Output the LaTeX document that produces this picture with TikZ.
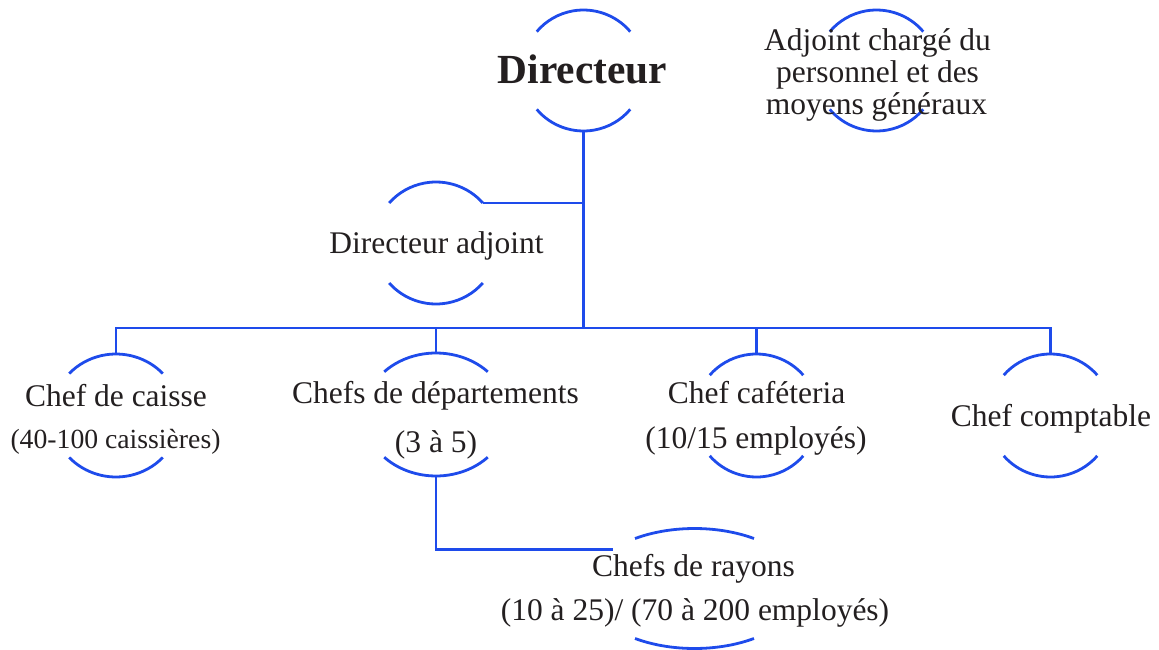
\documentclass[tikz,border=0pt]{standalone}
\usepackage{fontspec}
\setmainfont{Liberation Serif}
\usetikzlibrary{shapes.geometric}
\definecolor{lineblue}{RGB}{30,75,235}
\definecolor{txt}{RGB}{35,31,32}
\tikzset{
  conn/.style={draw=lineblue, line width=2.8pt},
  oval/.style={shape=ellipse, inner sep=0pt, outer sep=0pt},
  lbl/.style={font=\fontsize{31.5}{34}\selectfont, text=txt, inner sep=0pt, anchor=base},
  smalllbl/.style={lbl, font=\fontsize{27.7}{30}\selectfont},
  biglbl/.style={lbl, font=\fontsize{41.4}{44}\selectfont\bfseries}
}
\newcommand\ovarcs[4]{%
  \draw[conn] ([shift={(#4:#2pt and #3pt)}]#1.center) arc[start angle=#4, end angle={180-#4}, x radius=#2pt, y radius=#3pt];
  \draw[conn] ([shift={(180+#4:#2pt and #3pt)}]#1.center) arc[start angle={180+#4}, end angle={360-#4}, x radius=#2pt, y radius=#3pt];}
\begin{document}
\begin{tikzpicture}[x=1pt, y=-1pt]
\useasboundingbox (0,0) rectangle (1159,650);
% ellipse outlines (only arcs drawn)
\node[oval, minimum width=122pt, minimum height=121pt] (dir) at (583.5,70.5) {};
\node[oval, minimum width=122pt, minimum height=121pt] (adj) at (876.5,70.5) {};
\node[oval, minimum width=124pt, minimum height=122pt] (da) at (436,243) {};
\node[oval, minimum width=128pt, minimum height=123pt] (caisse) at (116,415.5) {};
\node[oval, minimum width=144pt, minimum height=123pt] (dep) at (436,414.5) {};
\node[oval, minimum width=124pt, minimum height=123pt] (caf) at (756.5,415.5) {};
\node[oval, minimum width=124pt, minimum height=123pt] (comp) at (1050.5,415.5) {};
\node[oval, minimum width=215pt, minimum height=120pt] (ray) at (694.5,588.5) {};
\ovarcs{dir}{61}{60.5}{40}
\ovarcs{adj}{61}{60.5}{40}
\ovarcs{da}{62}{61}{41}
\ovarcs{caisse}{64}{61.5}{43}
\ovarcs{dep}{72}{61.5}{44}
\ovarcs{caf}{62}{61.5}{41}
\ovarcs{comp}{62}{61.5}{41}
\ovarcs{ray}{107.5}{60}{56.4}
% texts
\node[biglbl] (dirT) at (582.5,83.5) {Directeur};
\node[lbl] (adjT1) at (877.5,50.2) {Adjoint chargé du};
\node[lbl] (adjT2) at (877.5,82.5) {personnel et des};
\node[lbl] (adjT3) at (876.5,114.5) {moyens généraux};
\node[lbl] (daT) at (436.5,253.7) {Directeur adjoint};
\node[lbl] (caisseT1) at (116,406) {Chef de caisse};
\node[smalllbl] (caisseT2) at (115.5,448.5) {(40-100 caissières)};
\node[lbl] (depT1) at (435.5,403.5) {Chefs de départements};
\node[lbl] (depT2) at (436,452.5) {(3 à 5)};
\node[lbl] (cafT1) at (756.5,403.5) {Chef caféteria};
\node[lbl] (cafT2) at (756,448) {(10/15 employés)};
\node[lbl] (compT) at (1051,426) {Chef comptable};
\node[lbl] (rayT1) at (693.5,576) {Chefs de rayons};
\node[lbl] (rayT2) at (695,620) {(10 à 25)/ (70 à 200 employés)};
% connectors
\coordinate (busc) at (583.5,328);
\coordinate (daR) at ([shift={(41:62pt and 61pt)}]da.center);
\coordinate (rayin) at ([shift={(139.5:107.5pt and 60pt)}]ray.center);
\draw[conn] (dir.south) -- (busc);
\draw[conn] (daR) -- (daR -| dir.south);
\draw[conn] (caisse.north) |- (busc) -| (comp.north);
\draw[conn] (dep.north) -- (dep.north |- busc);
\draw[conn] (caf.north) -- (caf.north |- busc);
\draw[conn] (dep.south) |- (rayin);
\end{tikzpicture}
\end{document}
